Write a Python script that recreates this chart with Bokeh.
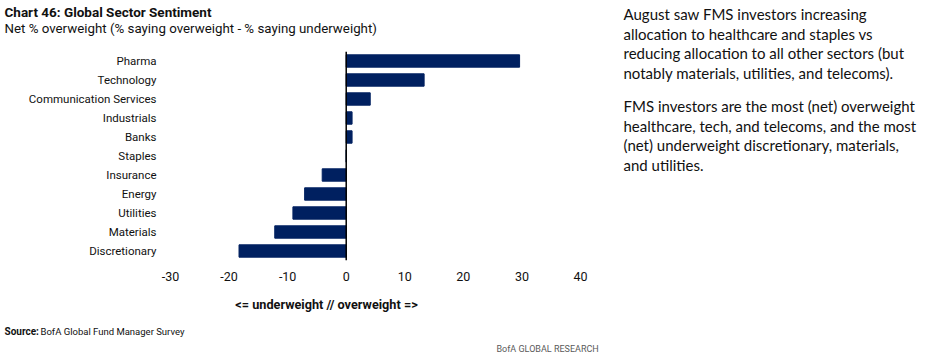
from bokeh.plotting import figure
from bokeh.models import Range1d, FactorRange, Span, Label, FixedTicker
from bokeh.layouts import row, column
from bokeh.embed import file_html
from bokeh.resources import INLINE

sectors = ["Pharma", "Technology", "Communication Services", "Industrials", "Banks",
           "Staples", "Insurance", "Energy", "Utilities", "Materials", "Discretionary"]
net_ow = [29.6, 13.3, 4.1, 1.0, 1.0, 0.0, -4.1, -7.1, -9.1, -12.2, -18.3]
x_ticks = [-30, -20, -10, 0, 10, 20, 30, 40]

title_text = "Chart 46: Global Sector Sentiment"
subtitle_text = "Net % overweight (% saying overweight - % saying underweight)"
axis_text = "<= underweight // overweight =>"
source_bold = "Source:"
source_text = "BofA Global Fund Manager Survey"
brand_text = "BofA GLOBAL RESEARCH"
commentary = [
    "August saw FMS investors increasing",
    "allocation to healthcare and staples vs",
    "reducing allocation to all other sectors (but",
    "notably materials, utilities, and telecoms).",
    "FMS investors are the most (net) overweight",
    "healthcare, tech, and telecoms, and the most",
    "(net) underweight discretionary, materials,",
    "and utilities.",
]

FONT = "Roboto"
NAVY = "#002060"
INK = "#111111"


def text_panel(w, h):
    f = figure(width=w, height=h, output_backend="svg", toolbar_location=None,
               x_range=Range1d(0, w), y_range=Range1d(h, 0),
               x_axis_type=None, y_axis_type=None, frame_align=False,
               min_border=0, min_border_left=0, min_border_right=0,
               min_border_top=0, min_border_bottom=0)
    f.outline_line_color = None
    f.xgrid.visible = False
    f.ygrid.visible = False
    return f


def lab(f, text, x, y, size, font=FONT, bold=False, color=INK, align="left"):
    f.add_layout(Label(x=x, y=y, text=text, text_font=font, text_font_size=size,
                       text_font_style="bold" if bold else "normal",
                       text_color=color, text_align=align, text_baseline="middle"))


# --- top: title + subtitle
top = text_panel(610, 40)
lab(top, title_text, 4, 11, "13.5px", bold=True)
lab(top, subtitle_text, 4, 28, "13.3px")

# --- chart
p = figure(width=610, height=250, output_backend="svg", toolbar_location=None,
           x_range=Range1d(-30, 40), y_range=FactorRange(factors=sectors[::-1]),
           frame_align=False,
           min_border_left=170, min_border_right=30, min_border_top=11, min_border_bottom=30)
p.outline_line_color = None
p.xgrid.grid_line_color = None
p.ygrid.grid_line_color = None

p.hbar(y=sectors, left=0, right=net_ow, height=0.65, fill_color=NAVY, line_color=NAVY)
p.add_layout(Span(location=0, dimension="height", line_color="black", line_width=1.5))

p.xaxis.ticker = FixedTicker(ticks=x_ticks)
p.xaxis.major_label_overrides = {t: str(t) for t in x_ticks}
for ax in (p.xaxis[0], p.yaxis[0]):
    ax.axis_line_color = None
    ax.major_tick_line_color = None
    ax.minor_tick_line_color = None
    ax.major_label_text_font = FONT
    ax.major_label_text_font_size = "11.5px"
    ax.major_label_text_color = INK
p.xaxis.major_label_text_font_size = "12.5px"
p.xaxis.major_label_standoff = 5
p.yaxis.major_label_standoff = 8

# --- bottom: axis caption, source, brand
bottom = text_panel(610, 68)
lab(bottom, axis_text, 326, 14, "12.7px", bold=True, align="center")
lab(bottom, source_bold, 4, 41, "10px", bold=True)
lab(bottom, source_text, 40, 41, "9.5px")
lab(bottom, brand_text, 496, 58, "9px", color="#5a5a5a")

# --- right: commentary
right = text_panel(326, 358)
line_y = [13, 33, 52, 72, 105, 125, 144, 164]
for t, yy in zip(commentary, line_y):
    lab(right, t, 13, yy, "15px", font="Lato")

layout = row(column(top, p, bottom), right)
open("out.html", "w").write(file_html(layout, INLINE))
